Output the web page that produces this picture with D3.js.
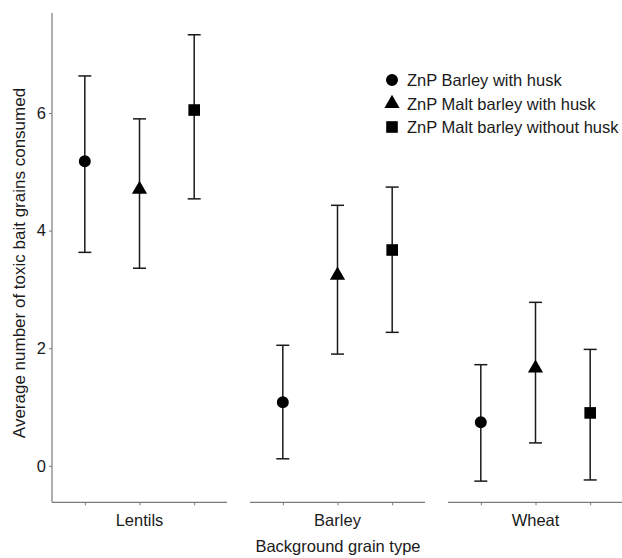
<!DOCTYPE html>
<html><head><meta charset="utf-8">
<script src="https://cdn.jsdelivr.net/npm/d3@7"></script>
<style>body{margin:0;background:#fff}svg{display:block}text{font-family:"Liberation Sans",Arial,sans-serif}</style>
</head><body><svg id="c" width="622" height="558"></svg>
<script>
const panels = ["Lentils", "Barley", "Wheat"];
const series = ["ZnP Barley with husk", "ZnP Malt barley with husk", "ZnP Malt barley without husk"];
const shapes = ["circle", "triangle", "square"];
// means[panel][series]
const means = [[5.18, 4.70, 6.05], [1.08, 3.24, 3.67], [0.74, 1.66, 0.90]];
const upper = [[6.63, 5.90, 7.33], [2.05, 4.43, 4.74], [1.72, 2.78, 1.98]];
const lower = [[3.63, 3.36, 4.54], [0.12, 1.90, 2.27], [-0.26, 0.39, -0.24]];
const yTicks = [0, 2, 4, 6];

const svg = d3.select("#c");
const panelStart = [52, 250, 448], panelW = 175;
const y = d3.scaleLinear().domain([-0.62, 7.70]).range([502.3, 13]);
const gray = "#7a7a7a";
const fs = 16.5;

// y axis
const ya = svg.append("g").attr("transform", "translate(52,0)").call(d3.axisLeft(y).tickValues(yTicks).tickSize(3).tickPadding(3));
ya.select(".domain").attr("stroke", gray).attr("stroke-width", 1.2).attr("d", `M0,${y.range()[1]}V${y.range()[0]}`);
ya.selectAll(".tick line").attr("stroke", gray);
ya.selectAll(".tick text").attr("font-size", fs).attr("fill", "#1a1a1a").style("font-family", '"Liberation Sans",Arial,sans-serif');

const sym = {
  circle: d3.symbol(d3.symbolCircle, 113),
  triangle: d3.symbol(d3.symbolTriangle, 100),
  square: d3.symbol(d3.symbolSquare, 135)
};

panels.forEach((p, pi) => {
  const x = d3.scalePoint().domain(series).range([0, panelW]).padding(0.6);
  const g = svg.append("g").attr("transform", `translate(${panelStart[pi]},0)`);
  const xa = g.append("g").attr("transform", `translate(0,502.3)`).call(d3.axisBottom(x).tickSize(3).tickFormat(""));
  xa.select(".domain").attr("stroke", gray).attr("stroke-width", 1.2).attr("d", `M0,0H${panelW}`);
  xa.selectAll(".tick line").attr("stroke", gray);
  g.append("text").attr("x", panelW / 2).attr("y", 526).attr("text-anchor", "middle").attr("font-size", fs).attr("fill", "#1a1a1a").text(p);
  series.forEach((s, si) => {
    const cx = x(s);
    const eg = g.append("g").attr("stroke", "#1a1a1a").attr("stroke-width", 1.5).attr("fill", "none");
    eg.append("line").attr("x1", cx).attr("x2", cx).attr("y1", y(upper[pi][si])).attr("y2", y(lower[pi][si]));
    [upper[pi][si], lower[pi][si]].forEach(v => eg.append("line").attr("x1", cx - 6.5).attr("x2", cx + 6.5).attr("y1", y(v)).attr("y2", y(v)));
    g.append("path").attr("d", sym[shapes[si]]()).attr("transform", `translate(${cx},${y(means[pi][si])})`).attr("fill", "#000");
  });
});

// axis titles
svg.append("text").attr("x", 338).attr("y", 552).attr("text-anchor", "middle").attr("font-size", fs).attr("fill", "#1a1a1a").text("Background grain type");
svg.append("text").attr("transform", "translate(25,263) rotate(-90)").attr("text-anchor", "middle").attr("font-size", 17).attr("fill", "#1a1a1a").text("Average number of toxic bait grains consumed");

// legend
const lg = svg.append("g");
series.forEach((s, i) => {
  const yy = 80 + i * 23.5;
  lg.append("path").attr("d", sym[shapes[i]]()).attr("transform", `translate(392,${yy})`).attr("fill", "#000");
  lg.append("text").attr("x", 407).attr("y", yy + 6).attr("font-size", fs).attr("fill", "#1a1a1a").text(s);
});
</script></body></html>
